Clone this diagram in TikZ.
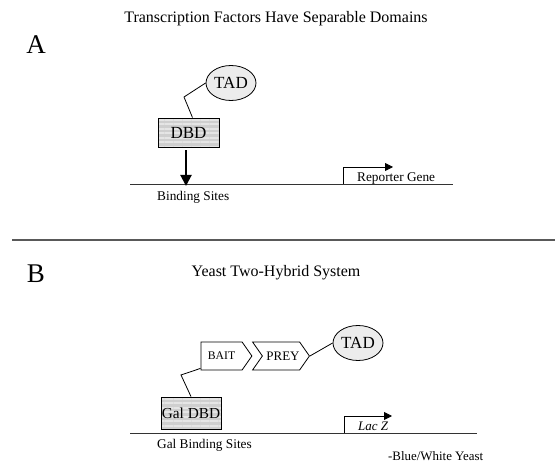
\documentclass[tikz,border=0pt]{standalone}
\usepackage{fontspec}
\setmainfont{Liberation Serif}
\usetikzlibrary{positioning,shapes.geometric,shapes.symbols,patterns.meta,arrows.meta}

\begin{document}
\begin{tikzpicture}[x=1pt,y=-1pt]
	\tikzstyle{dombox} = [preaction={fill=gray!38},preaction={pattern={Lines[angle=0,distance=4.5pt,line width=2pt]},pattern color=gray!20},draw,line width=0.8pt,inner sep=0pt]
	\tikzstyle{tad} = [ellipse,draw,line width=0.8pt,fill=gray!15,inner sep=0pt,minimum width=50pt,minimum height=35pt,font=\fontsize{17}{17}\selectfont]
	\tikzstyle{hybrid} = [signal,signal to=east,draw,line width=0.8pt,fill=white,inner sep=0pt,minimum height=28pt,signal pointer angle=110]
	\tikzstyle{dna} = [line width=0.9pt,black!80]
	\tikzstyle{titletext} = [font=\fontsize{16}{16}\selectfont]
	\tikzstyle{panellabel} = [font=\fontsize{27}{27}\selectfont]
	\tikzstyle{captiontext} = [inner sep=0pt,font=\fontsize{13.3}{13.3}\selectfont]
	\useasboundingbox (0,0) rectangle (555,462);
	
	% panel A
	\node[titletext] (titA) at (276,19) {Transcription Factors Have Separable Domains};
	\node[panellabel] (lblA) at (36,45) {A};
	
	\node[tad] (tadA) at (231,83) {TAD};
	\node[dombox,minimum width=61pt,minimum height=29pt,font=\fontsize{17}{17}\selectfont] (dbdA) at (188.5,132.5) {DBD};
	\coordinate (kinkA) at (184,97);
	\draw[line width=0.8pt] (tadA.west) -- (kinkA) -- ([xshift=4pt]dbdA.north);
	
	\coordinate (lineAw) at (130,184);
	\coordinate (lineAe) at (453,184);
	\coordinate (promA) at (343,184);
	\draw[dna] (lineAw) -- (lineAe);
	\draw[-{Triangle[length=11pt,width=11pt]},line width=2pt] ([xshift=-2.5pt,yshift=-3pt]dbdA.south) -- ([xshift=-2.5pt,yshift=-2pt]dbdA.south |- lineAw);
	\draw[-{Triangle[length=8pt,width=8pt]},line width=0.8pt] (promA) |- (393,167);
	
	\node[captiontext,anchor=west] (sitesA) at (157,197) {Binding Sites};
	\node[captiontext,anchor=base west] (geneA) at (357,182) {Reporter Gene};
	
	% divider
	\draw[line width=2pt,black!65] (12,240) -- (555,240);
	
	% panel B
	\node[panellabel] (lblB) at (36,274) {B};
	\node[titletext] (titB) at (276,273) {Yeast Two-Hybrid System};
	
	\node[tad] (tadB) at (358,343) {TAD};
	\node[hybrid,minimum width=51pt,font=\fontsize{11.7}{11.7}\selectfont] (bait) at (221.5,356) {BAIT};
	\node[hybrid,signal from=west,minimum width=56pt,font=\fontsize{13}{13}\selectfont] (prey) at (281,356) {\hspace{4pt}PREY};
	\node[dombox,minimum width=60pt,minimum height=32pt,font=\fontsize{15.3}{15.3}\selectfont] (galdbd) at (191,413) {Gal DBD};
	\coordinate (kinkB) at (181,375);
	\draw[line width=0.8pt] ([yshift=2pt]bait.south west) -- (kinkB) -- (galdbd.north);
	\draw[line width=0.8pt] (prey.east) -- (tadB.west);
	
	\coordinate (lineBw) at (130,433);
	\coordinate (lineBe) at (477,433);
	\coordinate (promB) at (344,433);
	\draw[dna] (lineBw) -- (lineBe);
	\draw[-{Triangle[length=8pt,width=8pt]},line width=0.8pt] (promB) |- (392,416);
	
	\node[captiontext,anchor=base west,font=\itshape\fontsize{13}{13}\selectfont] (lacz) at (358,431) {Lac Z};
	\node[captiontext,anchor=west] (sitesB) at (157,445) {Gal Binding Sites};
	\node[captiontext,anchor=west,font=\fontsize{12.9}{12.9}\selectfont] (yeast) at (388,456) {-Blue/White Yeast};
\end{tikzpicture}
\end{document}
